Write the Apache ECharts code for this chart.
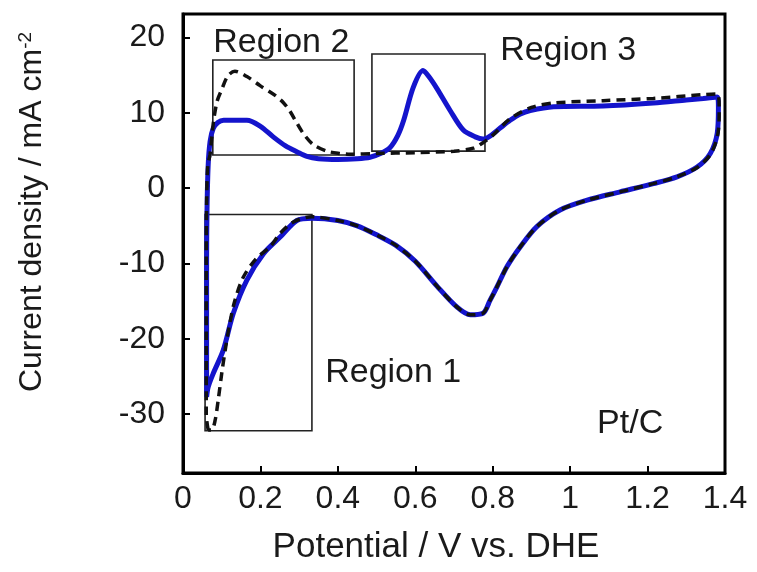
<!DOCTYPE html>
<html>
<head>
<meta charset="utf-8">
<script src="https://cdn.jsdelivr.net/npm/echarts@6/dist/echarts.min.js"></script>
<style>
  html, body { margin: 0; padding: 0; background: #fff; }
  #cv { width: 757px; height: 572px; }
</style>
</head>
<body>
<div id="cv"></div>
<script>
// potential (V vs. DHE) and current density (mA cm-2), blue solid loop
const blueV = [0.061, 0.061, 0.061, 0.062, 0.065, 0.07, 0.078, 0.09, 0.105, 0.165, 0.2, 0.233, 0.265, 0.295, 0.32, 0.35, 0.4, 0.45, 0.483, 0.51, 0.535, 0.555, 0.57, 0.595, 0.62, 0.635, 0.656, 0.69, 0.724, 0.755, 0.775, 0.793, 0.82, 0.845, 0.87, 0.897, 0.957, 1.085, 1.215, 1.3, 1.344, 1.38,
  1.383, 1.38, 1.362, 1.328, 1.276, 1.215, 1.129, 1.044, 0.974, 0.914, 0.871, 0.837, 0.811, 0.793, 0.775, 0.742, 0.708, 0.656, 0.6, 0.55, 0.5, 0.45, 0.4, 0.333, 0.294, 0.251, 0.208, 0.165, 0.13, 0.104, 0.078, 0.065, 0.061]
const blueI = [-27.7, -20, -10, -3, 3, 6.2, 7.9, 8.7, 9.0, 9.0, 8.2, 6.8, 5.6, 4.8, 4.2, 3.9, 3.8, 3.9, 4.1, 4.6, 5.4, 7.0, 9.0, 13.4, 15.6, 14.8, 13.2, 10.3, 7.7, 6.8, 6.5, 6.9, 8.0, 9.0, 9.8, 10.3, 10.8, 10.9, 11.3, 11.7, 11.9, 12.1,
  10.7, 7.3, 4.6, 2.8, 1.5, 0.6, -0.5, -1.6, -2.9, -5.1, -7.8, -10.4, -13.1, -14.9, -16.6, -16.8, -15.8, -13.0, -9.7, -7.6, -6.2, -5.0, -4.3, -4.0, -4.3, -6.5, -8.7, -12.2, -16.6, -21.5, -24.6, -26.4, -27.7]

// black dashed loop
const dashV = [0.065, 0.06, 0.06, 0.06, 0.061, 0.064, 0.07, 0.078, 0.088, 0.101, 0.116, 0.134, 0.165, 0.199, 0.238, 0.26, 0.275, 0.29, 0.31, 0.336, 0.372, 0.406, 0.432, 0.5, 0.6, 0.7, 0.75, 0.78, 0.8, 0.845, 0.9, 0.96, 1.085, 1.215, 1.344, 1.38,
  1.385, 1.382, 1.364, 1.33, 1.276, 1.215, 1.129, 1.044, 0.974, 0.914, 0.871, 0.837, 0.811, 0.793, 0.775, 0.742, 0.708, 0.656, 0.6, 0.55, 0.5, 0.45, 0.4, 0.333, 0.285, 0.251, 0.225, 0.19, 0.156, 0.134, 0.121, 0.109, 0.1, 0.091, 0.083, 0.074, 0.065]
const dashI = [-32.1, -30, -20, -10, -2, 3, 4.5, 8.5, 11.5, 13.2, 14.9, 15.5, 14.8, 13.6, 12.3, 11.3, 10.3, 9.0, 7.3, 5.8, 4.9, 4.6, 4.5, 4.6, 4.7, 4.9, 5.3, 6.2, 7.0, 9.2, 10.7, 11.3, 11.6, 11.9, 12.4, 12.5,
  10.7, 7.3, 4.6, 2.8, 1.5, 0.6, -0.5, -1.6, -2.9, -5.1, -7.8, -10.4, -13.1, -14.9, -16.6, -16.8, -15.8, -13.0, -9.7, -7.6, -6.2, -5.0, -4.3, -3.8, -4.5, -6.0, -7.8, -9.3, -11.8, -14.9, -17.9, -21.5, -24.6, -28.1, -30.8, -32.1, -32.1]

const yTicks = [-30, -20, -10, 0, 10, 20]

// region boxes [V1, I1, V2, I2]
const boxes = [
  [0.057, -3.5, 0.333, -32.2],
  [0.077, 17.0, 0.442, 4.4],
  [0.488, 17.8, 0.780, 4.9]
]
const notes = ['Region 2', 'Region 3', 'Region 1', 'Pt/C']
const noteV = [0.254, 0.995, 0.543, 1.155]
const noteI = [19.3, 18.3, -24.5, -31.2]

const zip = (xs, ys) => xs.map((x, i) => [x, ys[i]])

var myChart = echarts.init(document.getElementById('cv'))
const font = 'Liberation Sans, Arial, sans-serif'
const ink = '#1a1a1a'

var option = {
  animation: false,
  textStyle: { fontFamily: font },
  grid: { left: 183, right: 32, top: 14, bottom: 99, show: true, borderColor: '#000', borderWidth: 3 },
  xAxis: {
    type: 'value',
    min: 0, max: 1.4, interval: 0.2,
    name: 'Potential / V vs. DHE',
    nameLocation: 'middle',
    nameGap: 57,
    nameTextStyle: { fontSize: 35, color: ink, padding: [0, 36, 0, 0] },
    axisLine: { onZero: false, lineStyle: { color: '#000', width: 3 } },
    axisTick: { inside: true, length: 7, lineStyle: { color: '#000', width: 2 } },
    axisLabel: { fontSize: 32, color: ink, margin: 10 },
    splitLine: { show: false }
  },
  yAxis: {
    type: 'value',
    min: -37.8, max: 23.1,
    axisLine: { show: true, onZero: false, lineStyle: { color: '#000', width: 3 } },
    axisTick: { inside: true, length: 7, lineStyle: { color: '#000', width: 2 }, customValues: yTicks },
    axisLabel: { fontSize: 32, color: ink, margin: 18, customValues: yTicks },
    splitLine: { show: false }
  },
  graphic: [{
    type: 'text',
    x: 32, y: 212,
    rotation: Math.PI / 2,
    style: {
      text: '{a|Current density / mA cm}{b|-2}',
      align: 'center',
      verticalAlign: 'middle',
      rich: {
        a: { fontSize: 32, fontFamily: font, fill: ink },
        b: { fontSize: 19, fontFamily: font, fill: ink, verticalAlign: 'top' }
      }
    }
  }],
  series: [
    {
      type: 'line',
      data: zip(blueV, blueI),
      showSymbol: false,
      smooth: 0.3,
      lineStyle: { color: '#1414cc', width: 5 },
      markArea: {
        silent: true,
        itemStyle: { color: 'rgba(0,0,0,0)', borderColor: '#222', borderWidth: 1.6 },
        data: boxes.map(b => [{ coord: [b[0], b[1]] }, { coord: [b[2], b[3]] }])
      },
      z: 2
    },
    {
      type: 'line',
      data: zip(dashV, dashI),
      showSymbol: false,
      smooth: 0.3,
      lineStyle: { color: '#111', width: 3.5, type: [9, 6] },
      z: 3
    },
    {
      type: 'scatter',
      symbolSize: 0,
      itemStyle: { opacity: 1 },
      data: notes.map((n, i) => ({ name: n, value: [noteV[i], noteI[i]] })),
      label: { show: true, position: 'inside', formatter: '{b}', fontSize: 34, color: ink, opacity: 1 },
      silent: true,
      z: 4
    }
  ]
}
myChart.setOption(option)
</script>
</body>
</html>
